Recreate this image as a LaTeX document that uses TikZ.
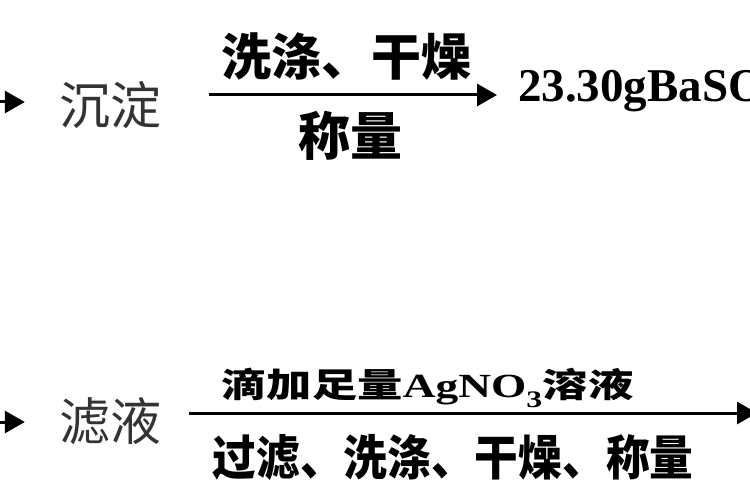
\documentclass[tikz,border=0pt]{standalone}
\usepackage{fontspec}
\setmainfont{Liberation Serif}
\newfontfamily\cjk{Noto Sans CJK SC}
\usetikzlibrary{arrows.meta, positioning}

\tikzset{
	flow/.style = {line width = 3pt, -{Triangle[length=20pt, width=22pt]}},
	stuff/.style = {inner sep = 0pt, text = black!80, font = \cjk\fontsize{51}{56}\selectfont},
	cond/.style = {inner sep = 0pt, font = \cjk\bfseries\fontsize{50}{55}\selectfont}
}

\begin{document}
\begin{tikzpicture}[x = 1pt, y = -1pt]
			\useasboundingbox (0,0) rectangle (750,500);
			\clip (0,0) rectangle (750,500);

			% top row
			\node [stuff] (chen) at (110,105) {沉淀};
			\node [anchor = base west, inner sep = 0pt, font = \bfseries\fontsize{47}{52}\selectfont] (baso) at (518,102) {23.30gBaSO};
			\coordinate (src1) at (-40,102);

			\draw [flow, shorten >= 34pt] (src1) -- (src1 -| chen.west);
			\draw [flow, shorten <= 48pt, shorten >= 21pt] ([yshift = 10pt]chen.east) -- ([yshift = 10pt]chen.east -| baso.west)
				node [cond, pos = 0.52, above = 13pt] (wash) {洗涤、干燥}
				node [cond, pos = 0.53, below = 15pt, font = \cjk\bfseries\fontsize{52}{56}\selectfont] (weigh) {称量};

			% bottom row
			\node [stuff] (lv) at (110,421) {滤液};
			\coordinate (src2) at (-40,422);
			\coordinate (out2) at (757,413);

			\draw [flow, shorten >= 34pt] (src2) -- (src2 -| lv.west);
			\draw [flow, shorten <= 28pt] ([yshift = 8pt]lv.east) -- (out2)
				node [cond, pos = 0.447, above = 4pt, font = \cjk\bfseries\fontsize{47}{52}\selectfont] (add)
					{\scalebox{0.965}[0.72]{滴加足量{\rmfamily\bfseries AgNO\textsubscript{3}}溶液}}
				node [cond, pos = 0.49, below = 20pt, font = \cjk\bfseries\fontsize{48}{52}\selectfont] (steps)
					{\scalebox{0.91}[1]{过滤、洗涤、干燥、称量}};
		\end{tikzpicture}
\end{document}
